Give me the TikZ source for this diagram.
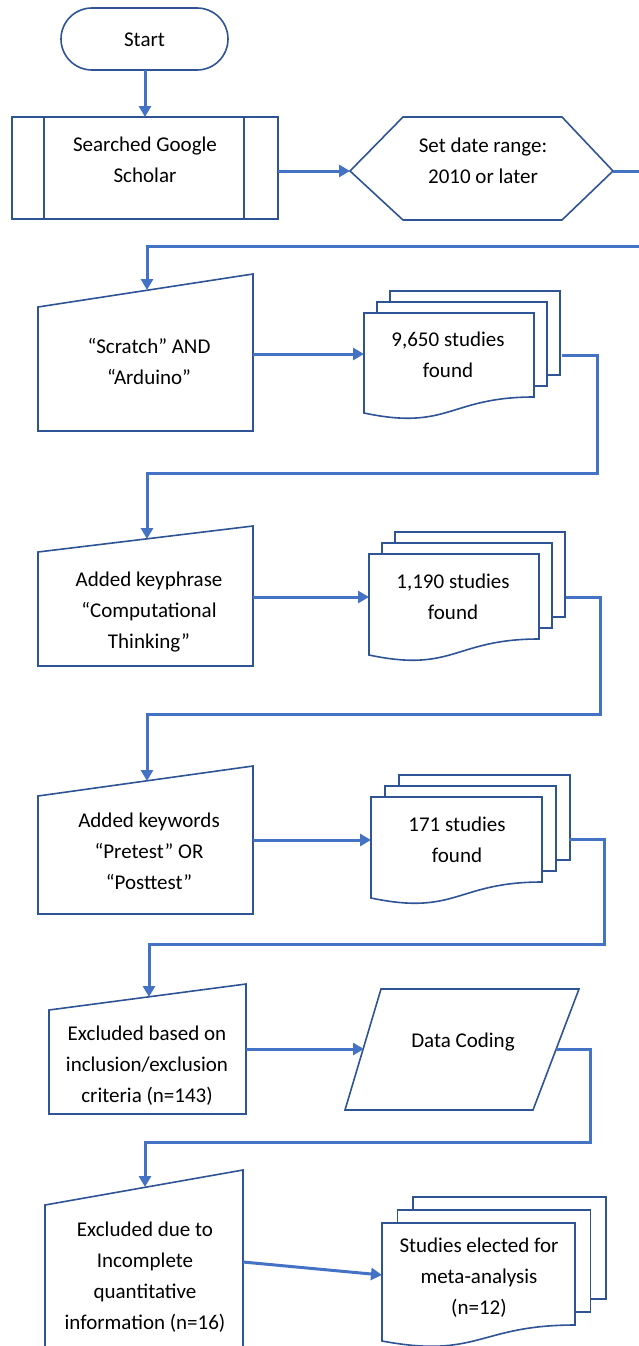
\documentclass[tikz,border=0pt]{standalone}
\usepackage{fontspec}
\setmainfont{Carlito}
\usetikzlibrary{arrows.meta}
\definecolor{shapeblue}{RGB}{47,84,150}
\definecolor{connblue}{RGB}{68,114,196}
% #1 front top-left, #2 width, #3 left height, #4 dx, #5 dy
\newcommand\mdoc[5]{%
\begin{scope}[shift={#1}]
\draw[shp] (2*#4,-2*#5) rectangle (2*#4+#2,-2*#5+#3-16);
\draw[shp] (#4,-#5) rectangle (#4+#2,-#5+#3-16);
\draw[shp] (0,0) -- (#2,0) -- (#2,#3-16) .. controls (0.5*#2,#3-16) and (0.5*#2,#3+18) .. (0,#3) -- cycle;
\end{scope}}
\begin{document}
\begin{tikzpicture}[x=1pt,y=-1pt,
  shp/.style={draw=shapeblue,line width=1.6pt,fill=white},
  conn/.style={draw=connblue,line width=3pt,-{Triangle[length=11pt,width=12pt]}},
  txt/.style={align=center,font=\fontsize{21}{31}\selectfont,inner sep=0pt,text=black}]
\useasboundingbox (0,0) rectangle (639,1346);
\clip (0,0) rectangle (639,1346);
\fill[white] (0,0) rectangle (639,1346);

% Start
\draw[shp,rounded corners=31pt] (61,8) rectangle (228,70);
\node[txt] (start) at (144.5,40) {Start};
\coordinate (startS) at (145,70);

% Predefined process
\draw[shp] (12,117) rectangle (278,219);
\draw[shp] (44,117) -- (44,219);
\draw[shp] (244,117) -- (244,219);
\node[txt] (pp) at (145,160) {Searched Google\\Scholar};
\coordinate (ppN) at (145,117);
\coordinate (ppE) at (278,171);

% Hexagon
\draw[shp] (350,171) -- (403,117) -- (562,117) -- (613,171) -- (562,220) -- (403,220) -- cycle;
\node[txt] (hex) at (483,161) {Set date range:\\2010 or later};
\coordinate (hexW) at (350,171);
\coordinate (hexE) at (613,171);

% Block 1
\draw[shp] (38,307) -- (253,274) -- (253,431) -- (38,431) -- cycle;
\node[txt] (scr) at (149,361) {``Scratch'' AND\\``Arduino''};
\coordinate (scrN) at (147,290);
\coordinate (scrE) at (253,354);
\mdoc{(364,313)}{170}{100}{13}{11}
\node[txt] (d1) at (448,355) {9,650 studies\\found};
\coordinate (d1W) at (364,354);
\coordinate (d1E) at (562,355);

% Block 2
\draw[shp] (38,552) -- (253,526) -- (253,666) -- (38,666) -- cycle;
\node[txt] (kp) at (149,612.5) {Added keyphrase\\``Computational\\Thinking''};
\coordinate (kpN) at (147,539);
\coordinate (kpE) at (253,597);
\mdoc{(369,554)}{170}{101}{13}{11}
\node[txt] (d2) at (453,597) {1,190 studies\\found};
\coordinate (d2W) at (369,597);
\coordinate (d2E) at (566,597);

% Block 3
\draw[shp] (38,796) -- (253,766) -- (253,914) -- (38,914) -- cycle;
\node[txt] (kw) at (149,851) {Added keywords\\``Pretest'' OR\\``Posttest''};
\coordinate (kwN) at (147,781);
\coordinate (kwE) at (253,840);
\mdoc{(371,797)}{171}{101}{14}{11}
\node[txt] (d3) at (457,840) {171 studies\\found};
\coordinate (d3W) at (371,840);
\coordinate (d3E) at (569,839);

% Block 4
\draw[shp] (49,1010) -- (246,984) -- (246,1114) -- (49,1114) -- cycle;
\node[txt] (ex1) at (147,1066) {Excluded based on\\inclusion/exclusion\\criteria (n=143)};
\coordinate (ex1N) at (149,997);
\coordinate (ex1E) at (246,1049);
\draw[shp] (381,989) -- (579,989) -- (533,1110) -- (345,1110) -- cycle;
\node[txt] (dc) at (463,1042) {Data Coding};
\coordinate (dcW) at (364,1049);
\coordinate (dcE) at (556,1049);

% Block 5
\draw[shp] (45,1205) -- (243,1170) -- (243,1360) -- (45,1360) -- cycle;
\node[txt] (ex2) at (145,1277) {Excluded due to\\Incomplete\\quantitative\\information (n=16)};
\coordinate (ex2N) at (145,1187);
\coordinate (ex2E) at (243,1262);
\mdoc{(382,1223)}{193}{118}{15.5}{13}
\node[txt] (d5) at (479,1278) {Studies elected for\\meta-analysis\\(n=12)};
\coordinate (d5W) at (382,1275);

% Connectors
\draw[conn] (startS) -- (ppN);
\draw[conn] (ppE) -- (hexW);
\draw[conn] (hexE) -- (660,171) -- (660,246) -- (147,246) -- (scrN);
\draw[conn] (scrE) -- (d1W);
\draw[conn] (d1E) -- (597,355) -- (597,473) -- (147,473) -- (kpN);
\draw[conn] (kpE) -- (d2W);
\draw[conn] (d2E) -- (600,597) -- (600,714) -- (147,714) -- (kwN);
\draw[conn] (kwE) -- (d3W);
\draw[conn] (d3E) -- (604,839) -- (604,944) -- (149,944) -- (ex1N);
\draw[conn] (ex1E) -- (dcW);
\draw[conn] (dcE) -- (590,1049) -- (590,1142) -- (145,1142) -- (ex2N);
\draw[conn] (ex2E) -- (d5W);
\end{tikzpicture}
\end{document}
